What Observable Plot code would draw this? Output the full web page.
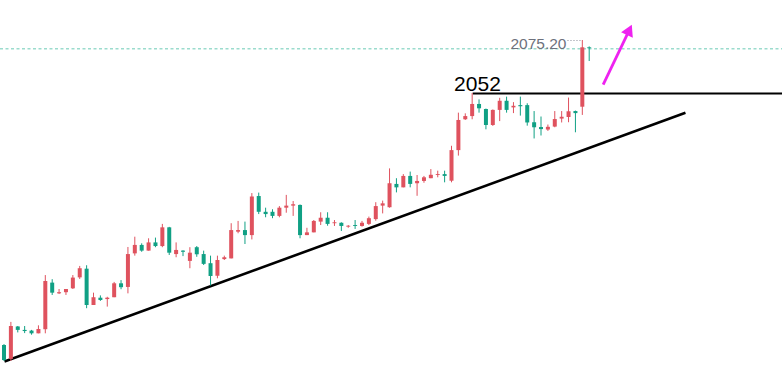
<!DOCTYPE html>
<html><head><meta charset="utf-8">
<script src="https://cdn.jsdelivr.net/npm/d3@7"></script>
<script src="https://cdn.jsdelivr.net/npm/@observablehq/plot@0.6"></script>
<style>html,body{margin:0;padding:0;background:#fff;overflow:hidden}</style>
</head><body><div id="chart"></div>
<script>
// OHLC candles (index order), prices
const opens = [1941.7,1935.6,1949.8,1948.3,1948.0,1946.8,1948.6,1969.0,1964.3,1964.8,1966.5,1971.3,1975.1,1959.2,1962.4,1961.8,1962.6,1968.7,1967.1,1981.8,1985.5,1983.0,1986.6,1985.0,1993.2,1981.5,1983.0,1978.5,1984.5,1981.5,1977.5,1972.0,1979.3,1979.6,1991.3,1992.0,1989.8,2006.9,2000.0,2000.0,1998.2,2001.8,2002.7,2003.0,1989.8,1991.0,1995.7,1997.4,1995.0,1995.2,1993.5,1994.2,1993.8,1994.7,1996.8,2002.7,2002.0,2012.2,2010.7,2015.7,2012.5,2013.5,2014.7,2016.1,2016.5,2013.6,2027.0,2040.5,2041.9,2047.2,2045.0,2038.0,2044.6,2048.6,2045.7,2046.7,2046.7,2039.2,2037.1,2036.0,2037.3,2040.8,2041.5,2044.1,2046.0,2072.0];
const highs = [1942.1,1951.8,1950.0,1950.0,1948.3,1950.3,1972.3,1970.5,1966.2,1966.2,1972.3,1976.3,1976.6,1964.6,1963.4,1962.8,1969.3,1970.1,1984.6,1989.1,1986.2,1988.4,1988.7,1994.7,1993.4,1986.6,1983.2,1984.5,1985.0,1983.0,1980.8,1980.8,1980.8,1995.0,1996.0,1995.7,2008.2,2008.4,2001.8,2001.1,2002.5,2007.4,2004.7,2003.2,1993.0,1996.4,1999.8,1999.8,1996.4,1995.4,1994.2,1996.4,1996.0,1997.9,2004.2,2004.9,2019.0,2014.7,2016.5,2017.6,2016.1,2015.7,2018.7,2018.0,2018.0,2028.9,2043.4,2043.1,2052.0,2049.2,2045.2,2044.8,2049.9,2050.4,2048.0,2050.4,2047.5,2044.1,2041.7,2038.2,2044.1,2044.1,2050.0,2044.3,2075.2,2072.4];
const lows = [1934.7,1934.7,1947.2,1946.9,1946.2,1946.8,1946.8,1963.6,1964.0,1963.6,1966.2,1970.6,1957.8,1959.2,1961.0,1958.5,1962.6,1966.1,1964.3,1980.8,1982.5,1983.0,1984.5,1984.5,1981.1,1980.1,1980.6,1975.3,1980.3,1976.7,1967.7,1970.9,1978.9,1979.6,1990.6,1985.9,1987.9,1999.0,1997.6,1997.2,1997.6,1999.6,1998.2,1988.4,1989.8,1991.0,1994.2,1993.9,1993.8,1991.6,1993.0,1992.5,1993.5,1994.2,1996.1,1999.3,2001.8,2008.5,2010.7,2010.7,2007.0,2012.7,2014.7,2015.1,2012.9,2012.9,2024.6,2040.2,2040.5,2043.4,2036.1,2037.6,2039.7,2043.4,2043.2,2042.1,2037.7,2032.1,2033.4,2035.4,2037.0,2039.1,2039.2,2034.8,2042.4,2066.0];
const closes = [1935.1,1950.0,1948.3,1947.8,1946.8,1948.7,1969.7,1964.6,1964.8,1966.2,1971.2,1975.3,1959.2,1962.6,1961.4,1962.4,1968.7,1967.0,1981.5,1985.5,1983.0,1986.6,1985.0,1993.2,1982.1,1983.3,1982.5,1982.1,1981.4,1977.2,1971.9,1978.9,1980.1,1992.0,1992.0,1989.8,2006.7,2000.0,1999.0,1998.2,2001.8,2002.7,2003.3,1989.8,1991.0,1996.0,1997.4,1994.7,1995.4,1993.8,1993.9,1993.8,1995.2,1997.2,2002.5,2003.7,2012.5,2010.7,2015.7,2012.2,2013.5,2015.1,2016.2,2016.5,2015.7,2027.0,2040.2,2041.9,2047.2,2045.3,2038.0,2044.6,2048.6,2044.6,2046.4,2046.2,2039.1,2037.0,2036.2,2037.2,2040.6,2041.6,2044.0,2043.2,2072.0,2071.6];

// annotations
const keyLevel = 2052;
const keyLevelLabel = "2052";
const keyLevelStart = 68.15;
const highValue = 2075.20;
const highLabel = "2075.20";
const trendStart = {x: 0.07, y: 1934.7};
const trendEnd = {x: 98.98, y: 2043.55};
const arrowTail = {x: 87.03, y: 2055.9};
const arrowTip = {x: 90.72, y: 2079.1};

const UP = "#df525e", DOWN = "#10a084";
const candles = opens.map((o, i) => ({i, o, h: highs[i], l: lows[i], c: closes[i], col: closes[i] >= o ? UP : DOWN}));
const last = candles[candles.length - 1];

const chart = Plot.plot({
  width: 782, height: 376,
  margin: 0,
  style: {fontFamily: "Liberation Sans, Arial, sans-serif", background: "#fff", overflow: "hidden"},
  x: {type: "linear", domain: [0, 85], range: [3.5, 588.7], axis: null},
  y: {type: "linear", domain: [2052, 2075.2], range: [93, 40], axis: null},
  marks: [
    Plot.ruleY([last.c], {stroke: "#9bdccd", strokeWidth: 1.5, strokeDasharray: "3,2.5"}),
    Plot.ruleY([keyLevel], {x1: keyLevelStart, x2: 113.2, stroke: "#000", strokeWidth: 2}),
    Plot.link([{}], {x1: trendStart.x, y1: trendStart.y, x2: trendEnd.x, y2: trendEnd.y, stroke: "#000", strokeWidth: 2.6}),
    Plot.ruleX(candles, {x: "i", y1: "l", y2: "h", stroke: "col", strokeWidth: 1}),
    Plot.ruleX(candles, {x: "i", y1: "o", y2: "c", stroke: "col", strokeWidth: 4}),
    Plot.text([keyLevelLabel], {x: 68.77, y: keyLevel, dy: -3, text: d => d, lineAnchor: "bottom", textAnchor: "middle", fontSize: 21, fill: "#000"}),
    Plot.ruleY([highValue], {x1: 81.92, x2: 83.8, stroke: "#8a8e99", strokeWidth: 1, strokeDasharray: "1,2"}),
    Plot.text([highLabel], {x: 81.7, y: 2071.5, text: d => d, lineAnchor: "bottom", textAnchor: "end", fontSize: 15.5, fill: "#6d717c"}),
    Plot.link([{}], {x1: arrowTail.x, y1: arrowTail.y, x2: arrowTip.x, y2: arrowTip.y, stroke: "#ee22f0", strokeWidth: 2.8}),
    Plot.dot([arrowTip], {x: "x", y: "y", symbol: "triangle", r: 4.8, rotate: 25.6, fill: "#ee22f0", stroke: "none"})
  ]
});
document.getElementById("chart").appendChild(chart);
</script>
</body></html>
